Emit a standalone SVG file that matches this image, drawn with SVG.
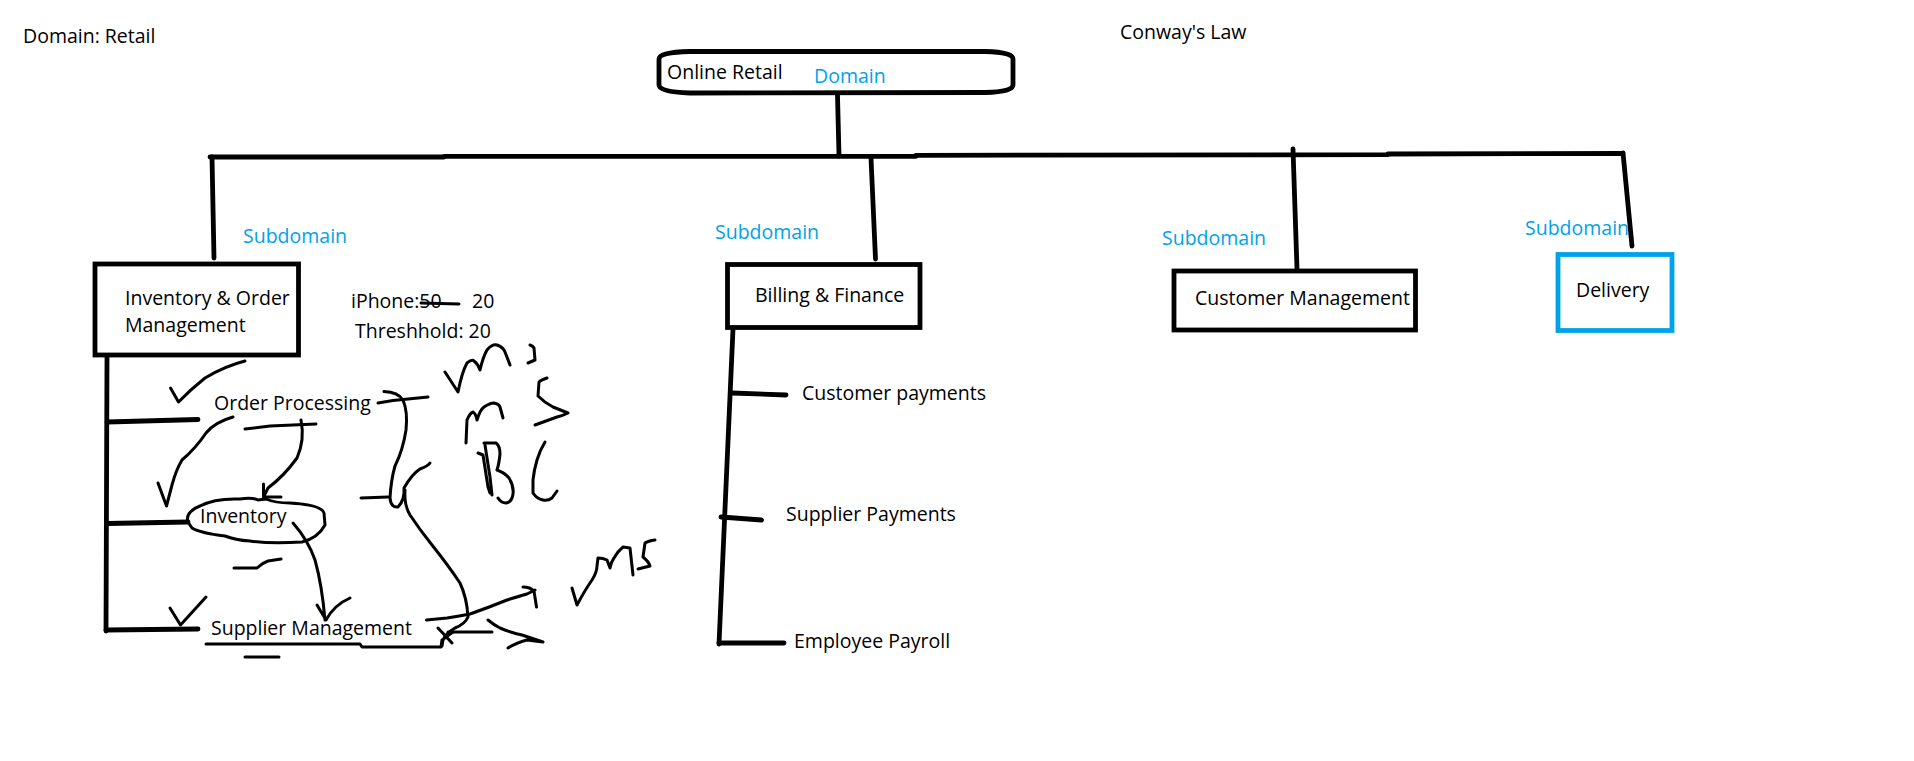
<svg xmlns="http://www.w3.org/2000/svg" width="1914" height="761" viewBox="0 0 1914 761">
<style>
text{font-family:"Open Sans","Segoe UI","Liberation Sans",sans-serif;font-size:19.5px;fill:#000}
.blue{fill:#00A2E8}
.ln{fill:none;stroke:#000;stroke-width:4.8;stroke-linecap:round;stroke-linejoin:round}
.bx{fill:#fff;stroke:#000;stroke-width:4.8}
.bxb{fill:#fff;stroke:#00A2E8;stroke-width:4.8}
.dd{fill:none;stroke:#000;stroke-width:3;stroke-linecap:round;stroke-linejoin:round}
</style>
<rect width="1914" height="761" fill="#fff"/>
<text x="23" y="43">Domain: Retail</text>
<text x="1120" y="39">Conway's Law</text>

<g id="connectors">
<path class="ln" d="M210,157 L444,157 M444,156.3 L916,156.3 M916,155.3 L1388,154.7 M1388,154 L1623,153.5"/>
<path class="ln" d="M837.5,95 L839,156"/>
<path class="ln" d="M212,157 L214,258"/>
<path class="ln" d="M871,158 L875.5,259"/>
<path class="ln" d="M1293,149 L1297,269"/>
<path class="ln" d="M1623,153 L1632,246"/>
<path class="ln" d="M107,357 L106,631"/>
<path class="ln" d="M107,422 L198,419.5"/>
<path class="ln" d="M107,523.5 L188,522"/>
<path class="ln" d="M106,630 L198,629"/>
<path class="ln" d="M733,329 L719,644"/>
<path class="ln" d="M731.5,393 L786,395"/>
<path class="ln" d="M721,517 L761.5,520"/>
<path class="ln" d="M719,643 L784,643"/>
</g>

<g id="node-online-retail">
<path class="bx" d="M659,59 Q659,52 690,51.5 L985,51.5 Q1013,52 1013,59 L1013,85 Q1013,92 985,92.5 L690,93 Q659,92 659,85 Z"/>
<text x="667" y="79">Online Retail</text>
<text class="blue" x="814" y="83">Domain</text>
</g>

<g id="node-inventory-order">
<rect class="bx" x="95" y="264" width="203.5" height="91"/>
<text x="125" y="305">Inventory &amp; Order</text>
<text x="125" y="332">Management</text>
<text class="blue" x="243" y="243">Subdomain</text>
</g>

<g id="node-billing">
<rect class="bx" x="727.5" y="264.5" width="192.5" height="63"/>
<text x="755" y="302">Billing &amp; Finance</text>
<text class="blue" x="715" y="239">Subdomain</text>
</g>

<g id="node-customer">
<rect class="bx" x="1174" y="271" width="241.5" height="59"/>
<text x="1195" y="305">Customer Management</text>
<text class="blue" x="1162" y="245">Subdomain</text>
</g>

<g id="node-delivery">
<rect class="bxb" x="1558" y="254.5" width="114" height="76"/>
<text x="1576" y="297">Delivery</text>
<text class="blue" x="1525" y="235">Subdomain</text>
</g>

<g id="node-order-processing"><text x="214" y="410">Order Processing</text></g>
<g id="node-inventory">
<path class="dd" d="M188,522 Q185,512 200,506 Q215,498 240,499 Q252,497 258,500 L266,499 Q275,503 290,503 Q322,505 324,513 L325,525 Q318,538 302,542 Q270,544 250,541 Q235,540 225,536 Q200,533 192,528 Z"/>
<text x="200" y="523">Inventory</text>
</g>
<g id="node-supplier-mgmt"><text x="211" y="635">Supplier Management</text></g>
<g id="node-customer-payments"><text x="802" y="400">Customer payments</text></g>
<g id="node-supplier-payments"><text x="786" y="521">Supplier Payments</text></g>
<g id="node-employee-payroll"><text x="794" y="648">Employee Payroll</text></g>

<g id="notes">
<text x="351" y="308">iPhone:50</text>
<text x="472" y="308">20</text>
<path class="dd" d="M421,303 L459,304"/>
<text x="355" y="338">Threshhold: 20</text>
</g>

<g id="scribbles">
<path class="dd" d="M170.5,388 L178.5,402 Q190,390 205,378 Q225,366 245,361"/>
<path class="dd" d="M233,417 Q215,422 206,433 Q196,448 182,460 Q176,470 172,485 L166.5,506 M158,483 L166.5,506"/>
<path class="dd" d="M245,429 L270,426 L316,424"/>
<path class="dd" d="M301,420 Q305,440 297,458 Q284,476 268,488 L263.5,497 M263.5,484 L263.5,497 L281,497"/>
<path class="dd" d="M293,523 Q308,540 315,560 Q322,585 325,620 M317,605 L326,620 Q334,605 350,598"/>
<path class="dd" d="M234,568 L257,568 Q262,563 268,561 L281,559"/>
<path class="dd" d="M170,608 L180.5,625 L206,597"/>
<path class="dd" d="M206,644 L360,644 L362,647 L441,647 L442,640"/>
<path class="dd" d="M245,657 L279,657"/>
<path class="dd" d="M378,403 L393,400.5 L428,397"/>
<path class="dd" d="M384,391.5 Q398,392 403,400 Q408,412 406,430 Q403,450 395,466 Q391,480 390,498 Q391,508 398,507 Q405,500 404,488 Q412,474 420,469 Q428,466 430,463"/>
<path class="dd" d="M361,498 L388,497"/>
<path class="dd" d="M405,490 Q404,505 410,515 Q420,530 432,545 Q448,565 460,583 Q467,598 468,617 Q465,624 455,628 Q445,634 443,640 L442,646"/>
<path class="dd" d="M438,628 L452,643 M445,638 Q450,634 453,632"/>
<path class="dd" d="M426.5,620 L447,618 Q460,616 470,614 Q490,607 507,600 Q520,596 527,594 L535,590 M523,587 Q530,587 534,591 L536.5,607"/>
<path class="dd" d="M448,632 L492,632 M488,620 Q494,625 500,628 Q512,633 522,635 L543,642 M508,648 Q518,642 527,640 L543,642"/>
<path class="dd" d="M445,372 L458,392 Q462,372 467,363 Q472,359 474,361 Q478,364 480,370 Q483,357 487,350 Q492,344 497,345 Q503,347 505,352 L510,365"/>
<path class="dd" d="M530,345 Q533,346 534,348 L535,360 L528,363"/>
<path class="dd" d="M466,443 L467,420 Q470,413 473,412 Q476,414 477,420 Q480,410 484,407 Q490,403 494,403 Q499,404 500,407 L503,418"/>
<path class="dd" d="M547,378 Q541,380 539,382 L538,396 Q545,403 553,407 L568,413 Q562,416 557,417 L535,425"/>
<path class="dd" d="M478,453 L483,455 L488,487 L490,493 M485,445 L490,477 L492,495"/>
<path class="dd" d="M484,443 L496,443 Q500,446 500,454 Q499,464 497,470 Q505,473 509,478 Q514,486 513,494 Q512,502 506,503 Q501,503 498,498"/>
<path class="dd" d="M545,442 Q540,450 537,460 Q534,470 533,480 L533,493 Q537,499 543,500 Q548,501 552,498 L557,491"/>
<path class="dd" d="M572,588 L577,605 Q585,590 592,580 Q597,572 597,566 L598,558 Q603,558 607,560 L610,568 Q611,562 614,558 Q618,551 623,547 L630,548 L633,575"/>
<path class="dd" d="M655,540 Q648,541 645,543 L643,557 Q649,562 650,566 L638,569"/>
</g>
</svg>
